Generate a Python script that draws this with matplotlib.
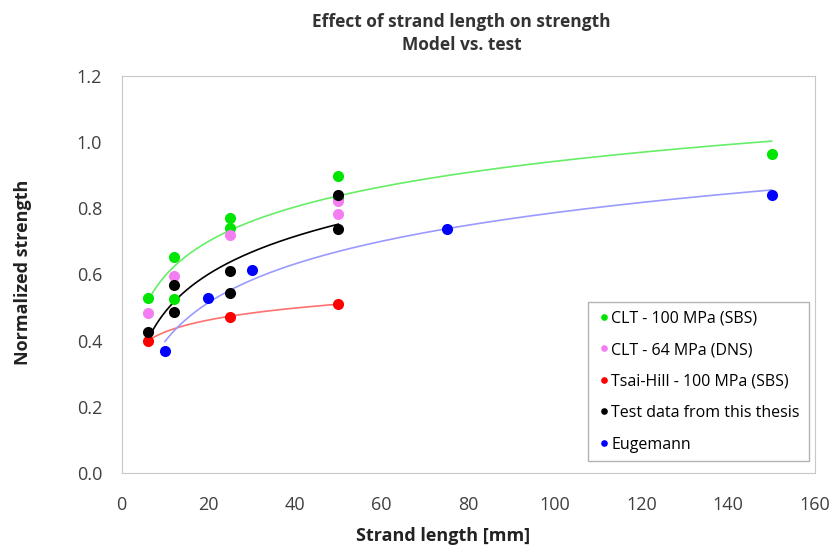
import numpy as np
import matplotlib
matplotlib.use("Agg")
import matplotlib.pyplot as plt

plt.rcParams["font.family"] = ["Open Sans", "DejaVu Sans"]

# CLT - 100 MPa (SBS)
clt100_x = [6, 12, 12, 25, 25, 50, 50, 150]
clt100_y = [0.53, 0.652, 0.525, 0.770, 0.741, 0.897, 0.83, 0.963]
# CLT - 64 MPa (DNS)
clt64_x = [6, 12, 25, 50, 50]
clt64_y = [0.483, 0.596, 0.719, 0.823, 0.782]
# Tsai-Hill - 100 MPa (SBS)
tsai_x = [6, 25, 50]
tsai_y = [0.40, 0.473, 0.511]
# test data from this thesis
test_x = [6, 12, 12, 25, 25, 50, 50]
test_y = [0.426, 0.568, 0.488, 0.612, 0.543, 0.840, 0.737]
# Eugemann
eug_x = [10, 20, 30, 75, 150]
eug_y = [0.370, 0.528, 0.614, 0.737, 0.840]


def log_trend(x, y):
    """logarithmic trendline y = a*ln(x) + b over the data range"""
    x = np.asarray(x, float)
    a, b = np.polyfit(np.log(x), np.asarray(y, float), 1)
    xs = np.linspace(x.min(), x.max(), 200)
    return xs, a * np.log(xs) + b


fig = plt.figure(figsize=(8.35, 5.54), dpi=100)
ax = fig.add_axes([0.1457, 0.1457, 0.8303, 0.7177])

series = [
    (clt100_x, clt100_y, "#00e600", "#66ee66", True, "CLT - 100 MPa (SBS)"),
    (clt64_x, clt64_y, "#f27ef2", None, False, "CLT - 64 MPa (DNS)"),
    (tsai_x, tsai_y, "#ff0000", "#ff7070", True, "Tsai-Hill - 100 MPa (SBS)"),
    (test_x, test_y, "#000000", "#000000", True, "Test data from this thesis"),
    (eug_x, eug_y, "#0000ff", "#9a9aff", True, "Eugemann"),
]

for x, y, c, lc, trend, lab in series:
    if trend:
        xs, ys = log_trend(x, y)
        ax.plot(xs, ys, color=lc, lw=1.2, zorder=2)

for x, y, c, lc, trend, lab in series:
    ax.plot(x, y, "o", color=c, ms=8, mew=0, label=lab, zorder=3)

ax.set_xlim(0, 160)
ax.set_ylim(0, 1.2)
ax.set_xticks(np.arange(0, 161, 20))
ax.set_yticks(np.arange(0, 1.21, 0.2))
ax.set_yticklabels([f"{v:.1f}" for v in np.arange(0, 1.21, 0.2)])
ax.tick_params(length=0, labelsize=13, colors="#404040")
ax.tick_params(axis="x", pad=16)
ax.tick_params(axis="y", pad=14)
for s in ax.spines.values():
    s.set_color("#c8c8c8")

ax.set_xlabel("Strand length [mm]", fontsize=13, fontweight="bold",
              color="#222222")
ax.set_ylabel("Normalized strength", fontsize=13, fontweight="bold",
              color="#222222")
ax.xaxis.set_label_coords(0.463, -0.135)
ax.yaxis.set_label_coords(-0.129, 0.505)

fig.text(0.553, 0.939, "Effect of strand length on strength\nModel vs. test",
         ha="center", va="center", fontsize=12.5, fontweight="bold",
         linespacing=1.35, color="#333333")

leg = ax.legend(loc="lower right", bbox_to_anchor=(0.998, 0.018), fontsize=11.5,
                frameon=True, fancybox=False, handletextpad=0.05,
                handlelength=0.9, borderpad=0.55, labelspacing=0.97,
                borderaxespad=0.3, markerscale=0.6)
leg.get_frame().set_edgecolor("#a0a0a0")
leg.get_frame().set_linewidth(1.0)

fig.savefig("out.png", dpi=100)
